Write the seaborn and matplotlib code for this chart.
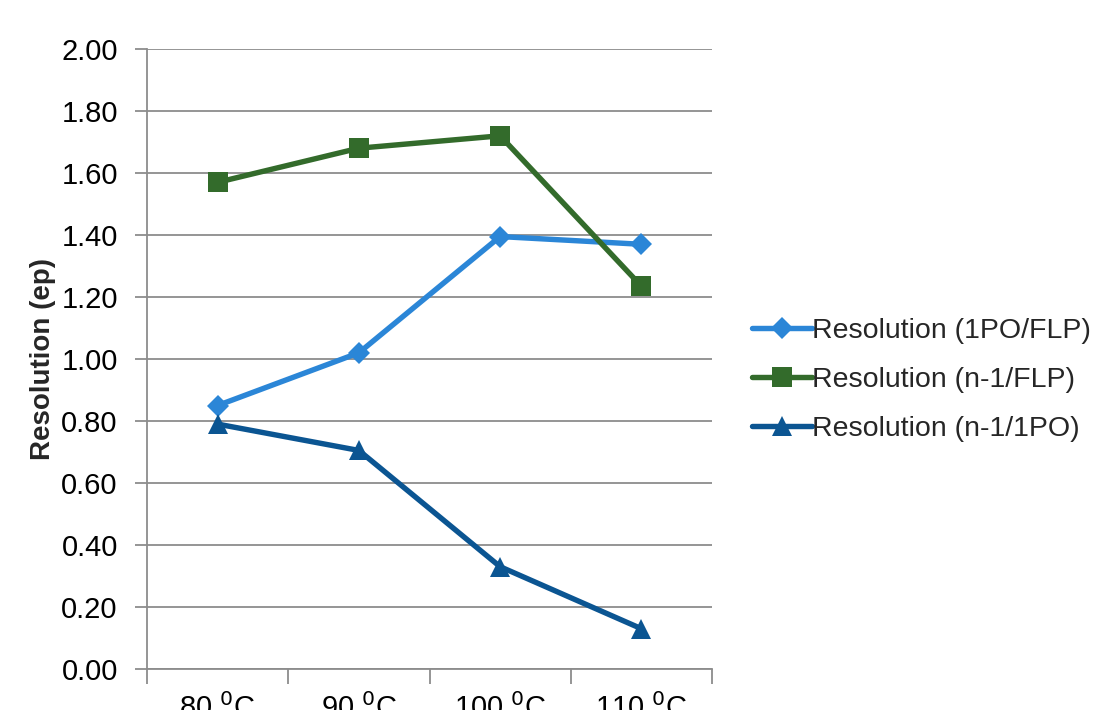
import matplotlib
matplotlib.use("Agg")
import matplotlib.pyplot as plt
import seaborn as sns
import pandas as pd
from matplotlib.ticker import FixedLocator, FixedFormatter

# Column temperatures and the resolution measured at each one
temperatures = ["80 $^{0}$C", "90 $^{0}$C", "100 $^{0}$C", "110 $^{0}$C"]
res_1po_flp = [0.85, 1.02, 1.395, 1.37]
res_n1_flp = [1.57, 1.68, 1.72, 1.235]
res_n1_1po = [0.79, 0.705, 0.33, 0.13]

series_names = ["Resolution (1PO/FLP)", "Resolution (n-1/FLP)", "Resolution (n-1/1PO)"]
series_values = [res_1po_flp, res_n1_flp, res_n1_1po]
colors = ["#2B86D7", "#336B2B", "#0B5592"]
marker_shapes = ["D", "s", "^"]
marker_sizes = [11, 15, 15]

rows = []
for name, vals in zip(series_names, series_values):
    for i, v in enumerate(vals):
        rows.append({"pos": i, "temperature": temperatures[i], "series": name, "value": v})
df = pd.DataFrame(rows)

sns.set_theme(style="white")
plt.rcParams["font.family"] = ["Liberation Sans", "DejaVu Sans"]

fig = plt.figure(figsize=(10.95, 7.10), dpi=100)
ax = fig.add_axes([147 / 1095, 41 / 710, 565 / 1095, 620 / 710])

for name, col, mk, ms in zip(series_names, colors, marker_shapes, marker_sizes):
    sub = df[df["series"] == name]
    sns.lineplot(data=sub, x="pos", y="value", ax=ax, color=col, linewidth=3.9,
                 marker=mk, markersize=ms, markeredgewidth=0, label=name,
                 sort=False, zorder=3)

ax.set_xlim(-0.5, len(temperatures) - 0.5)
ax.set_ylim(0, 2.0)
ax.set_yticks([i * 0.2 for i in range(11)])
ax.set_yticklabels([f"{i * 0.2:.2f}" for i in range(11)])

# Category boundaries carry tick marks; labels sit at the category centres
ax.xaxis.set_major_locator(FixedLocator([i - 0.5 for i in range(len(temperatures) + 1)]))
ax.xaxis.set_major_formatter(FixedFormatter([""] * (len(temperatures) + 1)))
ax.xaxis.set_minor_locator(FixedLocator(list(range(len(temperatures)))))
ax.xaxis.set_minor_formatter(FixedFormatter(temperatures))

ax.tick_params(axis="x", which="major", direction="out", length=11, width=1.3,
               color="#8C8C8C", bottom=True)
ax.tick_params(axis="x", which="minor", length=0, labelsize=21, pad=17, colors="black")
ax.tick_params(axis="y", which="major", direction="out", length=9, width=1.3,
               color="#8C8C8C", labelsize=21, pad=12, left=True, labelcolor="black")

ax.grid(axis="y", color="#8C8C8C", linewidth=1.3, zorder=0)
ax.grid(axis="x", visible=False)
for side in ["top", "right"]:
    ax.spines[side].set_visible(False)
for side in ["left", "bottom"]:
    ax.spines[side].set_color("#8C8C8C")
    ax.spines[side].set_linewidth(1.3)

ax.set_xlabel("")
ax.set_ylabel("Resolution (ep)", fontsize=20, fontweight="bold", labelpad=4)

ax.legend(loc="center left", bbox_to_anchor=(605 / 565, 0.466), frameon=False,
          fontsize=20.5, handlelength=2.1, handletextpad=0.0, labelspacing=0.8,
          borderaxespad=0, borderpad=0)

fig.savefig("out.png", dpi=100)
